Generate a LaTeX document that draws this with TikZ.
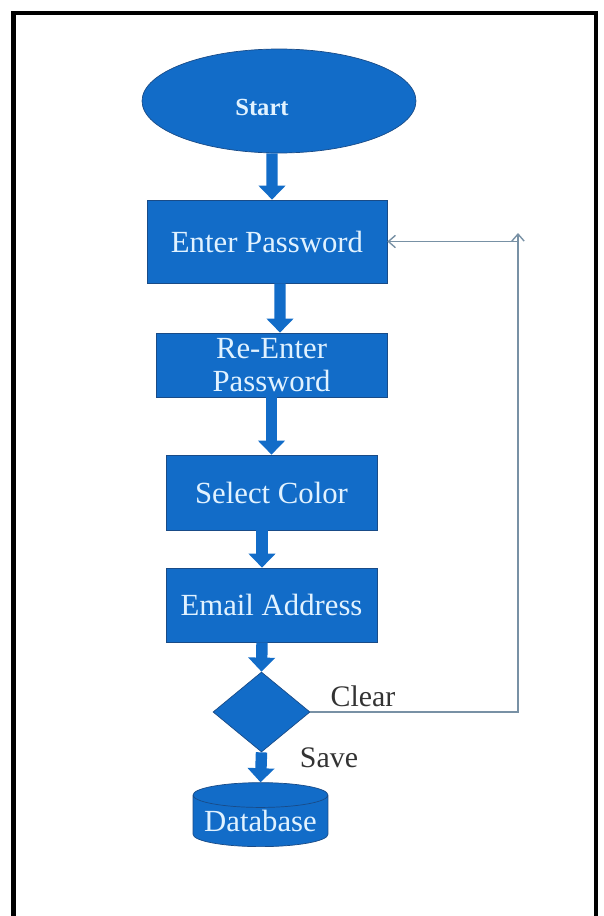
\documentclass[tikz,border=0pt]{standalone}
\usepackage{fontspec}
\setmainfont{Liberation Serif}
\usetikzlibrary{shapes.geometric,arrows.meta}
\definecolor{boxblue}{RGB}{18,108,200}
\definecolor{rimblue}{RGB}{25,75,135}
\definecolor{textblue}{RGB}{225,242,255}
\definecolor{loopgray}{RGB}{120,145,165}
\begin{document}
\begin{tikzpicture}[x=0.02cm,y=-0.02cm]
      \useasboundingbox (0,0) rectangle (603,916);
      \draw[line width=2.3pt] (13.5,916) |- (596,13) -- (596,916);
      \begin{scope}[every node/.style={draw=rimblue,fill=boxblue,text=textblue,align=center,inner sep=0pt,font=\fontsize{17.5}{19}\selectfont}]
        \node[ellipse,minimum width=5.48cm,minimum height=2.08cm,font=\bfseries\fontsize{14}{16}\selectfont] (start) at (279,101) {\raisebox{-0.3cm}[0pt][0pt]{Start}\hspace*{0.68cm}};
        \node[minimum width=4.8cm,minimum height=1.66cm] (enter) at (267,241.5) {Enter Password};
        \node[minimum width=4.62cm,minimum height=1.28cm] (reenter) at (271.5,365) {Re-Enter\\Password};
        \node[minimum width=4.22cm,minimum height=1.5cm] (select) at (271.5,492.5) {Select Color};
        \node[minimum width=4.22cm,minimum height=1.48cm] (email) at (271.5,605) {Email Address};
        \node[diamond,minimum width=1.94cm,minimum height=1.6cm] (dec) at (261.5,712) {};
        \node[cylinder,shape border rotate=90,aspect=0.22,minimum width=2.7cm,minimum height=1.28cm] (db) at (260.5,821) {Database};
      \end{scope}
      \begin{scope}[every node/.style={text=black!80,font=\fontsize{17}{19}\selectfont}]
        \node (clear) at (363,696) {Clear};
        \node (save) at (329,758) {Save};
      \end{scope}
      \coordinate (loop) at (518,233);
      \begin{scope}[fat/.style={draw=boxblue,line width=6.5pt,-{Triangle[width=15pt,length=8pt]}}]
        \draw[fat] ([xshift=-0.14cm]start.south) -- ([xshift=0.1cm]enter.north);
        \draw[fat] ([xshift=0.26cm]enter.south) -- ([xshift=0.17cm]reenter.north);
        \draw[fat] (reenter.south) -- (select.north);
        \draw[fat] ([xshift=-0.19cm]select.south) -- ([xshift=-0.19cm]email.north);
        \draw[fat] ([xshift=-0.19cm]email.south) -- (dec.north);
        \draw[fat] (dec.south) -- (db.north);
      \end{scope}
      \begin{scope}[back/.style={draw=loopgray,line width=0.8pt,-{Straight Barb[length=4pt,width=7pt]}}]
        \draw[back] (dec.east) -| (loop);
        \draw[back] (loop |- enter.east) -- (enter.east);
      \end{scope}
    \end{tikzpicture}
\end{document}
